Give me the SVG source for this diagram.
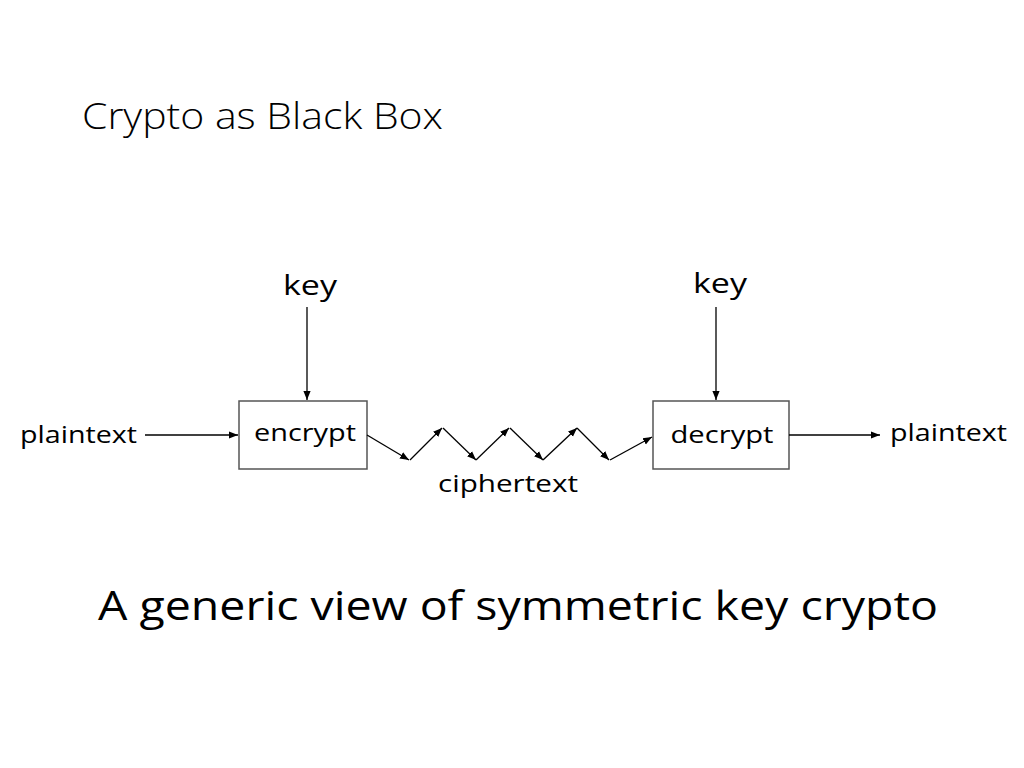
<svg xmlns="http://www.w3.org/2000/svg" width="1024" height="768" viewBox="0 0 1024 768">
<style>
.t{font-family:"Open Sans","DejaVu Sans",sans-serif;fill:#000}
.lbl{font-size:24px}
.title{font-family:"Open Sans","Liberation Sans",sans-serif;font-weight:300;font-size:36px;fill:#000}
.box{fill:#fff;stroke:#555;stroke-width:1.5}
.ln{stroke:#000;stroke-width:1.3;fill:none;marker-end:url(#ah)}
</style>
<defs>
<marker id="ah" viewBox="0 0 10 10" refX="10" refY="5" markerWidth="9" markerHeight="9" markerUnits="userSpaceOnUse" orient="auto">
<path d="M0,1 L10,5 L0,9 z" fill="#000"/>
</marker>
</defs>
<rect width="1024" height="768" fill="#fff"/>
<text class="title" x="82" y="129" textLength="361" lengthAdjust="spacingAndGlyphs">Crypto as Black Box</text>
<g id="encrypt">
<rect class="box" x="239" y="401" width="128" height="68"/>
<text class="t lbl" x="305" y="441" text-anchor="middle" textLength="102" lengthAdjust="spacingAndGlyphs">encrypt</text>
</g>
<g id="decrypt">
<rect class="box" x="653" y="401" width="136" height="68"/>
<text class="t lbl" x="722" y="443" text-anchor="middle" textLength="103" lengthAdjust="spacingAndGlyphs">decrypt</text>
</g>
<g id="key1"><text class="t" font-size="28" x="310" y="295" text-anchor="middle" textLength="54" lengthAdjust="spacingAndGlyphs">key</text></g>
<g id="key2"><text class="t" font-size="28" x="720" y="293" text-anchor="middle" textLength="54" lengthAdjust="spacingAndGlyphs">key</text></g>
<g id="plaintext-in"><text class="t lbl" x="20" y="443" textLength="117" lengthAdjust="spacingAndGlyphs">plaintext</text></g>
<g id="plaintext-out"><text class="t lbl" x="890" y="441" textLength="117" lengthAdjust="spacingAndGlyphs">plaintext</text></g>
<g id="ciphertext"><text class="t lbl" x="438" y="492" textLength="140" lengthAdjust="spacingAndGlyphs">ciphertext</text></g>
<g id="connectors">
<line class="ln" x1="307" y1="307" x2="307" y2="400"/>
<line class="ln" x1="716" y1="307" x2="716" y2="400"/>
<line class="ln" x1="145" y1="435" x2="238" y2="435"/>
<line class="ln" x1="789" y1="435" x2="880" y2="435"/>
<line class="ln" x1="367" y1="435" x2="409" y2="460"/>
<line class="ln" x1="410" y1="460" x2="442" y2="428"/>
<line class="ln" x1="443" y1="428" x2="476" y2="460"/>
<line class="ln" x1="476" y1="460" x2="509" y2="428"/>
<line class="ln" x1="510" y1="428" x2="543" y2="460"/>
<line class="ln" x1="543" y1="460" x2="577" y2="428"/>
<line class="ln" x1="577" y1="428" x2="609" y2="460"/>
<line class="ln" x1="610" y1="460" x2="652" y2="437"/>
</g>
<text class="t" font-size="40" x="98" y="620" textLength="840" lengthAdjust="spacingAndGlyphs">A generic view of symmetric key crypto</text>
</svg>
